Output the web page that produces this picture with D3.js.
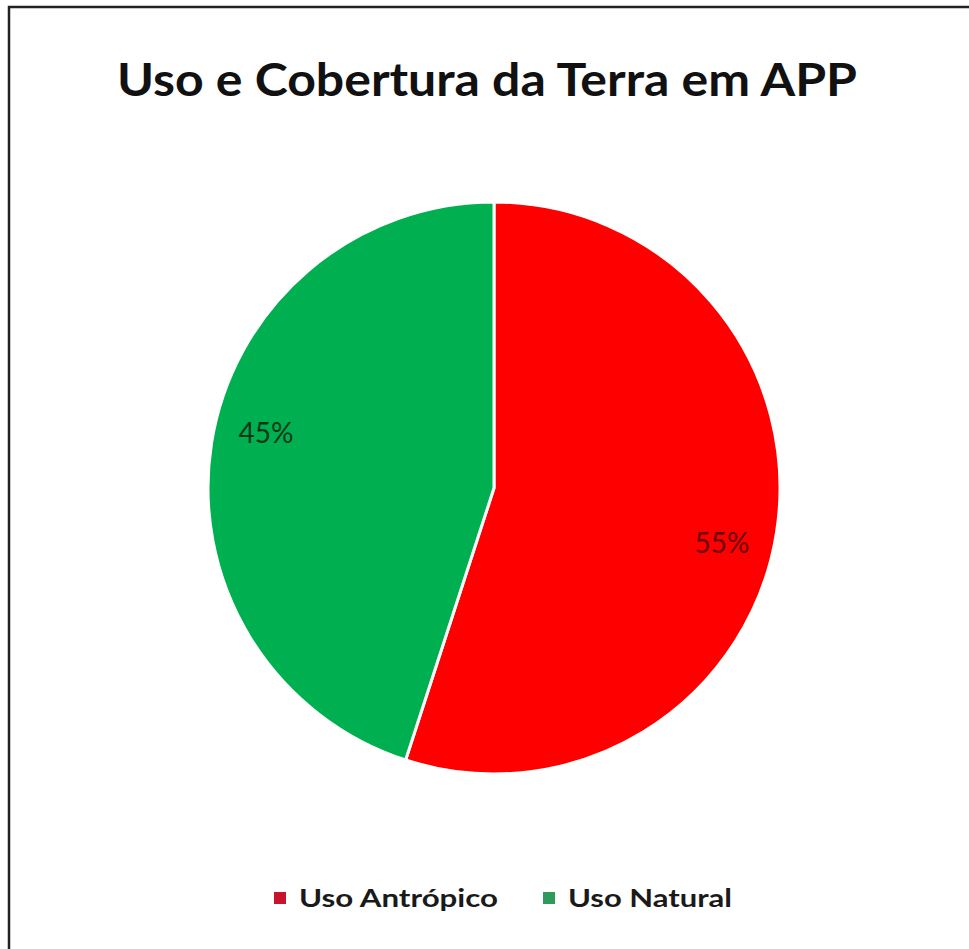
<!DOCTYPE html>
<html>
<head>
<meta charset="utf-8">
<script src="https://cdn.jsdelivr.net/npm/d3@7"></script>
<style>
  body { margin: 0; background: #fff; }
  svg { display: block; }
</style>
</head>
<body>
<svg id="chart"></svg>
<script>
const width = 969;
const height = 949;

const title = 'Uso e Cobertura da Terra em APP';
const categories = ['Uso Antrópico', 'Uso Natural'];
const values = [55, 45];
const sliceColors = ['#ff0000', '#00b050'];
const keyColors = ['#c8142a', '#2e9a5c'];
const labelColors = ['#6a0000', '#063818'];

const cx = 494;
const cy = 488;
const radius = 286;

const svg = d3.select('#chart')
    .attr('width', width)
    .attr('height', height);

svg.append('rect')
    .attr('width', width)
    .attr('height', height)
    .attr('fill', '#fff');

// frame (only top and left edges show in the picture)
svg.append('path')
    .attr('d', `M9,${height} L9,7 L${width},7`)
    .attr('fill', 'none')
    .attr('stroke', '#222')
    .attr('stroke-width', 2.5);

svg.append('text')
    .attr('x', 487)
    .attr('y', 96)
    .attr('text-anchor', 'middle')
    .attr('font-family', 'Lato, "Open Sans", sans-serif')
    .attr('font-weight', 'bold')
    .attr('font-size', 45)
    .attr('textLength', 740)
    .attr('lengthAdjust', 'spacingAndGlyphs')
    .attr('fill', '#111')
    .text(title);

const data = categories.map((c, i) => ({ name: c, value: values[i], i: i }));

const pie = d3.pie().sort(null).value(d => d.value);
const arc = d3.arc().innerRadius(0).outerRadius(radius);

// labels sit a little clockwise of the slice middle, like the original
const labelShift = 4.5 * Math.PI / 180;
const labelR = radius * 0.82;
function labelPos(d) {
    const a = (d.startAngle + d.endAngle) / 2 + labelShift;
    return [labelR * Math.sin(a), -labelR * Math.cos(a)];
}

const g = svg.append('g').attr('transform', `translate(${cx},${cy})`);
const arcs = pie(data);

g.selectAll('path.slice')
    .data(arcs)
    .enter()
    .append('path')
    .attr('class', 'slice')
    .attr('d', arc)
    .attr('fill', d => sliceColors[d.data.i])
    .attr('stroke', '#fff')
    .attr('stroke-width', 3)
    .attr('stroke-linejoin', 'round');

g.selectAll('text.lbl')
    .data(arcs)
    .enter()
    .append('text')
    .attr('class', 'lbl')
    .attr('transform', d => `translate(${labelPos(d)})`)
    .attr('text-anchor', 'middle')
    .attr('dy', '0.35em')
    .attr('font-family', 'Lato, "Open Sans", sans-serif')
    .attr('font-size', 28)
    .attr('fill', d => labelColors[d.data.i])
    .text(d => d.data.value + '%');

// legend
const legendX = [274, 543];
const legend = svg.append('g');
const item = legend.selectAll('g')
    .data(data)
    .enter()
    .append('g')
    .attr('transform', d => `translate(${legendX[d.i]}, 898)`);

item.append('rect')
    .attr('x', 0)
    .attr('y', -6)
    .attr('width', 12)
    .attr('height', 12)
    .attr('fill', d => keyColors[d.i]);

item.append('text')
    .attr('x', 25)
    .attr('y', 0)
    .attr('dy', '0.35em')
    .attr('font-family', 'Lato, "Open Sans", sans-serif')
    .attr('font-weight', 'bold')
    .attr('font-size', 25)
    .attr('textLength', d => d.i === 0 ? 199 : 164)
    .attr('lengthAdjust', 'spacingAndGlyphs')
    .attr('fill', '#1a1a1a')
    .text(d => d.name);
</script>
</body>
</html>
